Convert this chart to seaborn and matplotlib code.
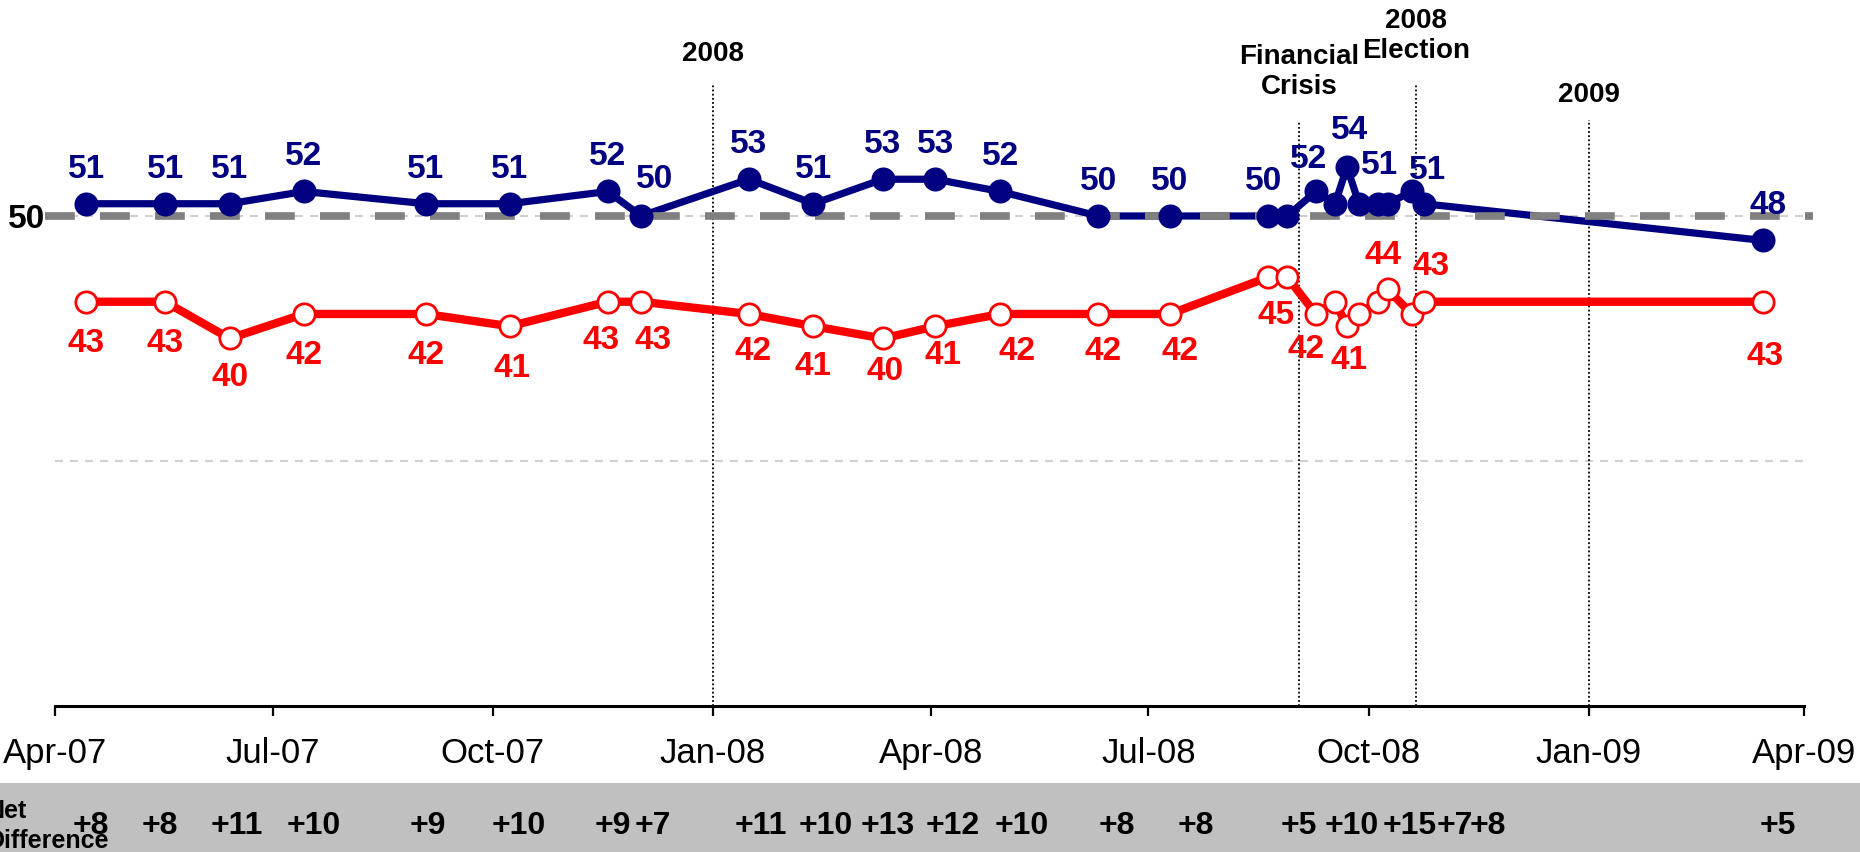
import numpy as np
import pandas as pd
import matplotlib
matplotlib.use("Agg")
import matplotlib.pyplot as plt
import matplotlib.dates as mdates
from matplotlib.transforms import blended_transform_factory
from matplotlib.patches import Rectangle
import seaborn as sns

# ---------------- data ----------------
survey_dates = ['2007-04-14', '2007-05-17', '2007-06-13', '2007-07-14', '2007-09-03', '2007-10-08',
                '2007-11-18', '2007-12-02', '2008-01-16', '2008-02-12', '2008-03-12', '2008-04-03',
                '2008-04-30', '2008-06-10', '2008-07-10', '2008-08-20', '2008-08-28', '2008-09-09',
                '2008-09-17', '2008-09-22', '2008-09-27', '2008-10-05', '2008-10-09', '2008-10-19',
                '2008-10-24', '2009-03-15']
dem_values = [51, 51, 51, 52, 51, 51, 52, 50, 53, 51, 53, 53, 52, 50, 50, 50, 50, 52, 51, 54, 51, 51, 51, 52, 51, 48]
rep_values = [43, 43, 40, 42, 42, 41, 43, 43, 42, 41, 40, 41, 42, 42, 42, 45, 45, 42, 43, 41, 42, 43, 44, 42, 43, 43]
dem_labels = ['51', '51', '51', '52', '51', '51', '52', '50', '53', '51', '53', '53', '52', '50', '50', '50',
              None, '52', None, '54', None, '51', None, None, '51', '48']
rep_labels = ['43', '43', '40', '42', '42', '41', '43', '43', '42', '41', '40', '41', '42', '42', '42', '45',
              None, '42', None, '41', None, None, '44', None, '43', '43']

net_labels = ['+8', '+8', '+11', '+10', '+9', '+10', '+9', '+7', '+11', '+10', '+13', '+12', '+10',
              '+8', '+8', '+5', '+10', '+15', '+7', '+8', '+5']
net_dates = ['2007-04-16', '2007-05-15', '2007-06-16', '2007-07-18', '2007-09-04', '2007-10-12',
             '2007-11-20', '2007-12-07', '2008-01-21', '2008-02-17', '2008-03-14', '2008-04-10',
             '2008-05-09', '2008-06-18', '2008-07-21', '2008-09-02', '2008-09-24', '2008-10-18',
             '2008-11-06', '2008-11-20', '2009-03-21']

event_labels = ['2008', 'Financial\nCrisis', '2008\nElection', '2009']
event_dates = ['2008-01-01', '2008-09-02', '2008-10-21', '2009-01-01']

tick_dates = ['2007-04-01', '2007-07-01', '2007-10-01', '2008-01-01', '2008-04-01',
              '2008-07-01', '2008-10-01', '2009-01-01', '2009-04-01']
reference_level = 50
grid_levels = [30, 50]

# ---------------- styles ----------------
NAVY = '#000080'
RED = '#FF0000'
W, H = 1860, 852
LABEL_SIZE = 24
# label offsets in pixels (dx, dy)
dem_offsets = [(0, 38)] * 26
dem_offsets = list(dem_offsets)
dem_offsets[7] = (13, 40)
dem_offsets[15] = (-4, 38)
dem_offsets[17] = (-7, 35)
dem_offsets[19] = (2, 40)
dem_offsets[21] = (1, 42)
dem_offsets[24] = (4, 37)
dem_offsets[25] = (5, 38)
rep_offsets = [(0, -38), (0, -38), (0, -36), (0, -38), (0, -38), (2, -39), (-7, -35), (12, -35),
               (4, -34), (0, -37), (2, -30), (8, -26), (17, -34), (5, -34), (10, -34), (8, -35),
               None, (-10, -32), None, (2, -31), None, None, (-5, 37), None, (7, 39), (2, -51)]
event_line_tops = [1 - 83 / 706, 1 - 122 / 706, 1 - 85 / 706, 1 - 120 / 706]
event_text_y = [1 - 54 / 706, 1 - 72 / 706, 1 - 36 / 706, 1 - 95 / 706]

sns.set_theme(style='white')
plt.rcParams['font.family'] = ['Liberation Sans', 'DejaVu Sans']

df = pd.DataFrame({'date': pd.to_datetime(survey_dates), 'dem': dem_values, 'rep': rep_values})

fig = plt.figure(figsize=(W / 100, H / 100), dpi=100)
ax = fig.add_axes([55 / W, (H - 706) / H, 1749 / W, 706 / H])

# band for net difference
fig.add_artist(Rectangle((0, 0), 1, 69 / H, transform=fig.transFigure,
                         facecolor='#C0C0C0', edgecolor='none', zorder=0))

# light gridlines
for g in grid_levels:
    ax.axhline(g, color='#D0D0D0', lw=1.5, dashes=(3.8, 3.4), zorder=1)

sns.lineplot(data=df, x='date', y='dem', color=NAVY, lw=5.2, ax=ax, zorder=2)
sns.lineplot(data=df, x='date', y='rep', color=RED, lw=6, ax=ax, zorder=2)

ax.axhline(reference_level, xmin=-0.006, xmax=1.005, color='#808080', lw=5.5,
           dashes=(3.9, 3.3), zorder=3, clip_on=False)

sns.scatterplot(data=df, x='date', y='dem', color=NAVY, s=300, linewidth=0, ax=ax, zorder=4)
sns.scatterplot(data=df, x='date', y='rep', color='white', edgecolor=RED, s=235, linewidth=2.0,
                ax=ax, zorder=4)

xnum = mdates.date2num(df['date'])
for x, v, lbl, off in zip(xnum, dem_values, dem_labels, dem_offsets):
    if lbl is None:
        continue
    ax.annotate(lbl, xy=(x, v), xytext=off, textcoords='offset pixels', ha='center',
                va='center_baseline', color=NAVY, fontsize=LABEL_SIZE, fontweight='bold', zorder=5)
for x, v, lbl, off in zip(xnum, rep_values, rep_labels, rep_offsets):
    if lbl is None:
        continue
    ax.annotate(lbl, xy=(x, v), xytext=off, textcoords='offset pixels', ha='center',
                va='center_baseline', color=RED, fontsize=LABEL_SIZE, fontweight='bold', zorder=5)

# events
trans_ev = blended_transform_factory(ax.transData, ax.transAxes)
for d, lbl, top, ty in zip(event_dates, event_labels, event_line_tops, event_text_y):
    xd = mdates.date2num(pd.Timestamp(d))
    ax.axvline(xd, ymin=0, ymax=top, color='black', lw=1.3, ls=(0, (1, 1.3)), zorder=1)
    ax.text(xd, ty, lbl, transform=trans_ev, ha='center', va='center', fontsize=20,
            fontweight='bold', color='black', clip_on=False, linespacing=1.2)

# net difference
trans_net = blended_transform_factory(ax.transData, fig.transFigure)
for d, lbl in zip(net_dates, net_labels):
    ax.text(mdates.date2num(pd.Timestamp(d)), 1 - 822 / H, lbl, transform=trans_net, ha='center',
            va='center_baseline', fontsize=23, fontweight='bold', color='black', clip_on=False)
fig.text(-14 / W, 1 - 826 / H, 'Net\nDifference', ha='left', va='center', fontsize=18,
         fontweight='bold', linespacing=1.3, color='black')

# axes
ax.set_xlim(pd.Timestamp(tick_dates[0]), pd.Timestamp(tick_dates[-1]))
ax.set_ylim(10, 67.63)
ax.set_xticks(pd.to_datetime(tick_dates))
ax.xaxis.set_major_formatter(mdates.DateFormatter('%b-%y'))
ax.set_yticks([reference_level])
ax.set_yticklabels([str(reference_level)])
for t in ax.get_yticklabels():
    t.set_fontweight('bold')
    t.set_fontsize(LABEL_SIZE)
ax.tick_params(axis='y', length=0, pad=7, labelcolor='black')
ax.tick_params(axis='x', direction='out', length=7.2, width=1.6, color='black', pad=15,
               labelsize=25, labelcolor='black', bottom=True)
ax.set_xlabel('')
ax.set_ylabel('')
for s in ['left', 'top', 'right']:
    ax.spines[s].set_visible(False)
ax.spines['bottom'].set_color('black')
ax.spines['bottom'].set_linewidth(2.2)
ax.set_facecolor('none')
ax.grid(False)
if ax.get_legend() is not None:
    ax.get_legend().remove()

fig.savefig('out.png', dpi=100)
